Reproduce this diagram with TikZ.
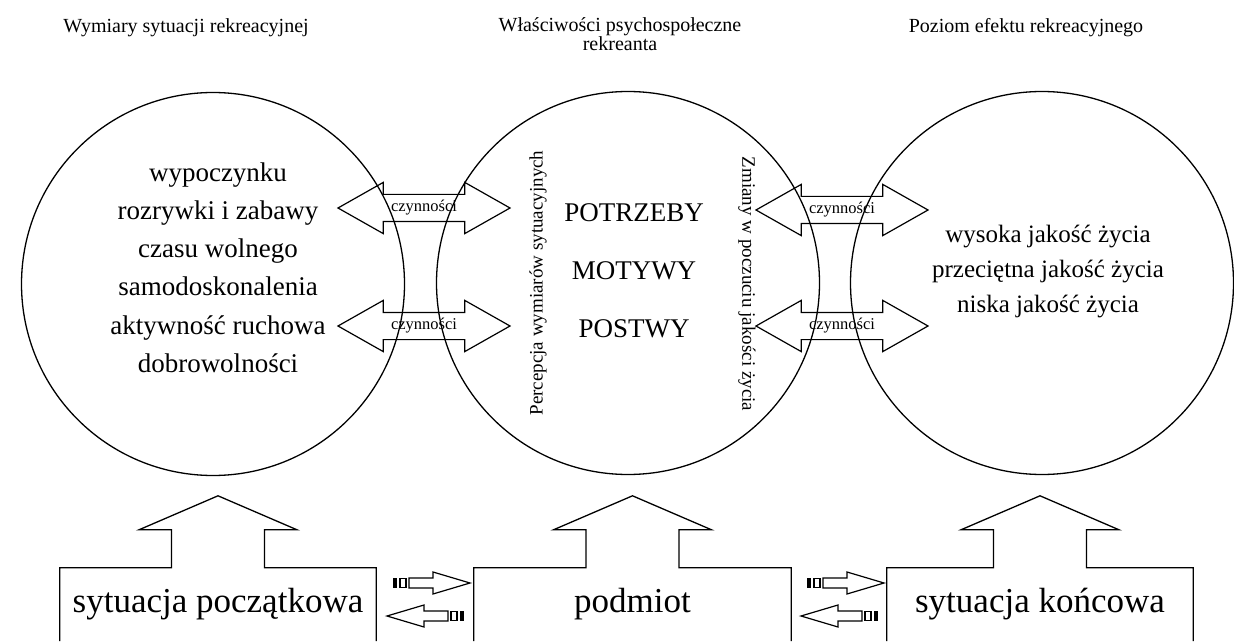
\documentclass[tikz,border=0pt]{standalone}
\usepackage{fontspec}
\setmainfont{Liberation Serif}
\usetikzlibrary{shapes.arrows,calc}
\tikzset{stripe/.pic={
  \fill (0,-5) rectangle (4,5);
  \draw[line width=1.2pt] (7,-4.5) rectangle (13,4.5);
  \draw[line width=1.2pt,line join=miter] (16,-5) -- (16,5) -- (40,5) -- (40,11) -- (77,0) -- (40,-11) -- (40,-5) -- cycle;
}}

\begin{document}
\begin{tikzpicture}[x=1pt,y=1pt,ring/.style={circle,draw,line width=1.3pt,minimum size=383pt,inner sep=0pt},hd/.style={align=center,inner sep=0pt,font=\fontsize{20}{18.5}\selectfont},lst/.style={align=center,inner sep=0pt,font=\fontsize{27}{38.2}\selectfont},act/.style={double arrow,draw,line width=1.2pt,minimum height=172pt,double arrow head extend=12pt,double arrow tip angle=59,inner xsep=0pt,inner ysep=6pt,text height=10.5pt,text depth=3.5pt,font=\fontsize{16.5}{16.5}\selectfont},box/.style={minimum width=316pt,minimum height=73pt,inner sep=0pt,font=\fontsize{35}{35}\selectfont},blk/.style={line width=1.3pt,line join=miter},vtxt/.style={inner sep=0pt,font=\fontsize{19}{19}\selectfont}]
\useasboundingbox (0,0) rectangle (1234,641);
\clip (0,0) rectangle (1234,641);

\node[hd] (hdims) at (186,613) {Wymiary sytuacji rekreacyjnej};
\node[hd] (hprops) at (620,607) {Właściwości psychospołeczne\\rekreanta};
\node[hd] (heffect) at (1026,613) {Poziom efektu rekreacyjnego};

\node[ring] (dims) at (213,357) {};
\node[ring] (props) at (628,358) {};
\node[ring] (effect) at (1042,358) {};

\node[lst] (dimlist) at (218,373.5) {wypoczynku\\rozrywki i zabawy\\czasu wolnego\\samodoskonalenia\\aktywność ruchowa\\dobrowolności};
\node[lst,font=\fontsize{27}{58}\selectfont] (proplist) at (634,370) {POTRZEBY\\MOTYWY\\POSTWY};
\node[lst,font=\fontsize{25}{35}\selectfont] (efflist) at (1048,369) {wysoka jakość życia\\przeciętna jakość życia\\niska jakość życia};
\node[vtxt,rotate=90] (perc) at (538,358) {Percepcja wymiarów sytuacyjnych};
\node[vtxt,rotate=-90] (chg) at (747,357) {Zmiany w poczuciu jakości życia};

\node[act] (a1) at (424,433) {czynności};
\node[act] (a2) at (424,315) {czynności};
\node[act] (a3) at (842,431) {czynności};
\node[act] (a4) at (842,315) {czynności};

\node[box] (start) at (218,36.5) {sytuacja początkowa};
\node[box,minimum width=317pt] (subj) at (632.5,36.5) {podmiot};
\node[box,minimum width=306pt] (fin) at (1040,36.5) {sytuacja końcowa};
\foreach \b in {start,subj,fin}
  \draw[blk] (\b.south west) -- (\b.north west) -- ([xshift=-46.5pt]\b.north) -- ++(0,38) -- ++(-32.5,0) -- ++(79,34) -- ++(79,-34) -- ++(-32.5,0) -- ++(0,-38) -- (\b.north east) -- (\b.south east);

\pic at (393,58) {stripe};
\pic[rotate=180] at (464,25) {stripe};
\pic at (807,58) {stripe};
\pic[rotate=180] at (878,25) {stripe};
\end{tikzpicture}
\end{document}
